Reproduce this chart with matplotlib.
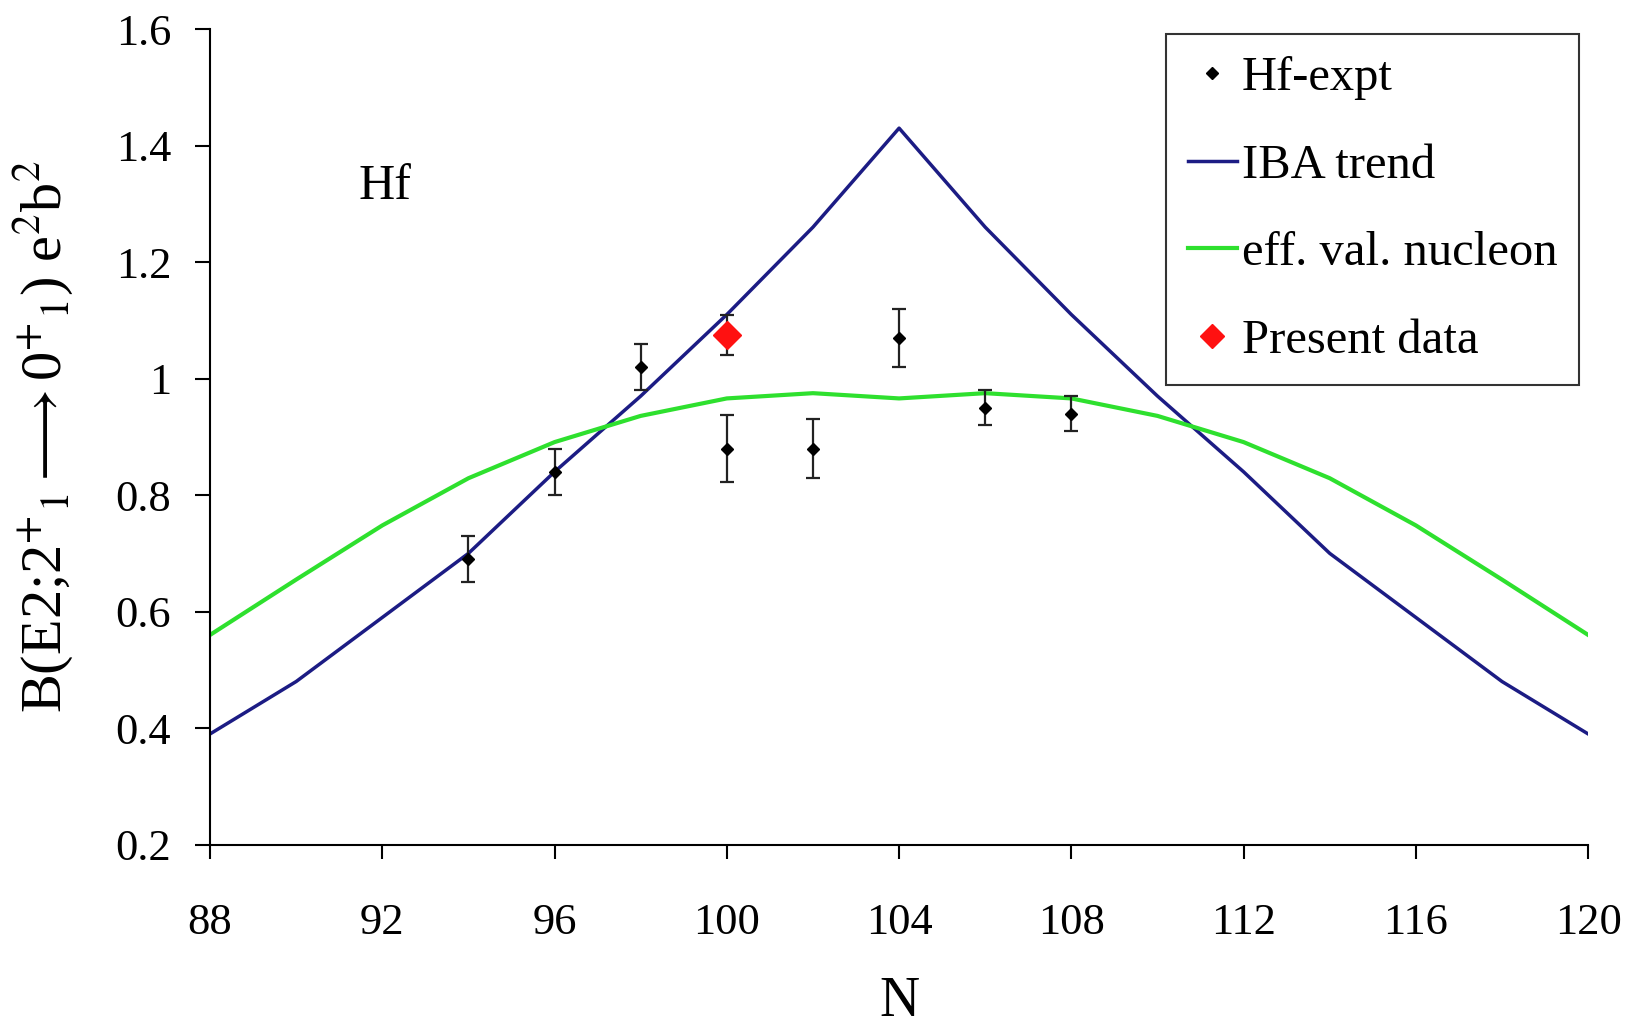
import numpy as np
import matplotlib
matplotlib.use("Agg")
import matplotlib.pyplot as plt
from matplotlib.lines import Line2D

# data
N_trend = [88, 90, 92, 94, 96, 98, 100, 102, 104, 106, 108, 110, 112, 114, 116, 118, 120]
iba_trend = [0.39, 0.48, 0.59, 0.70, 0.84, 0.97, 1.11, 1.26, 1.43, 1.26, 1.11, 0.97, 0.84, 0.70, 0.59, 0.48, 0.39]
eff_val = [0.56, 0.655, 0.748, 0.829, 0.891, 0.936, 0.966, 0.975, 0.966, 0.975, 0.966, 0.936, 0.891, 0.829, 0.748, 0.655, 0.56]

N_expt = [94, 96, 98, 100, 102, 104, 106, 108]
be2_expt = [0.69, 0.84, 1.02, 0.88, 0.88, 1.07, 0.95, 0.94]
err_expt = [0.04, 0.04, 0.04, 0.058, 0.05, 0.05, 0.03, 0.03]

N_present = [100]
be2_present = [1.075]
err_present = [0.035]

plt.rcParams['font.family'] = ['Liberation Serif', 'DejaVu Serif']
plt.rcParams['mathtext.fontset'] = 'stix'

fig = plt.figure(figsize=(16.31, 10.29), dpi=100)
ax = fig.add_axes([0.1288, 0.1792, 0.8449, 0.7925])

navy = '#1c1c84'
green = '#2ee02e'

ax.plot(N_trend, iba_trend, color=navy, lw=2.5, zorder=2)
ax.plot(N_trend, eff_val, color=green, lw=3.0, zorder=2)
ax.errorbar(N_expt, be2_expt, yerr=err_expt, fmt='D', color='black', ms=6,
            ecolor='#222222', elinewidth=1.6, capsize=5, capthick=1.6, zorder=3)
ax.errorbar(N_present, be2_present, yerr=err_present, fmt='none',
            ecolor='#222222', elinewidth=1.6, capsize=5, capthick=1.6, zorder=3)
ax.plot(N_present, be2_present, 'D', color='#ff1111', ms=14, zorder=4)

ax.set_xlim(88, 120)
ax.set_ylim(0.2, 1.6)
ax.set_xticks(np.arange(88, 121, 4))
ax.set_yticks(np.arange(0.2, 1.61, 0.2))
ax.set_yticklabels(['0.2', '0.4', '0.6', '0.8', '1', '1.2', '1.4', '1.6'])

for s in ['top', 'right']:
    ax.spines[s].set_visible(False)
for s in ['left', 'bottom']:
    ax.spines[s].set_linewidth(1.5)
ax.tick_params(axis='y', direction='out', length=11, width=1.5, pad=17, labelsize=32)
ax.tick_params(axis='x', direction='out', length=10, width=1.5, pad=32, labelsize=32)

ax.set_xlabel('N', fontsize=40, va='center')
ax.xaxis.set_label_coords(0.5, -0.193)
ax.set_ylabel(r'B(E2;2$^{+}$$_{1}$$\longrightarrow$0$^{+}$$_{1}$) e$^{2}$b$^{2}$',
              fontsize=42, va='center')
ax.yaxis.set_label_coords(-0.1205, 0.5)

ax.text(92.06, 1.33, 'Hf', fontsize=36, ha='center', va='center')

handles = [
    Line2D([], [], marker='D', color='black', ls='none', ms=6),
    Line2D([], [], color=navy, lw=2.5),
    Line2D([], [], color=green, lw=3.0),
    Line2D([], [], marker='D', color='#ff1111', ls='none', ms=12),
]
labels = ['Hf-expt', 'IBA trend', 'eff. val. nucleon', 'Present data']
leg = ax.legend(handles, labels, loc='upper right', bbox_to_anchor=(0.9935, 0.994),
                fontsize=35, frameon=True, fancybox=False, edgecolor='black',
                handlelength=1.0, handletextpad=0.1, labelspacing=0.9,
                borderpad=0.45, borderaxespad=0)
leg.get_frame().set_linewidth(1.5)

fig.savefig('out.png', dpi=100)
